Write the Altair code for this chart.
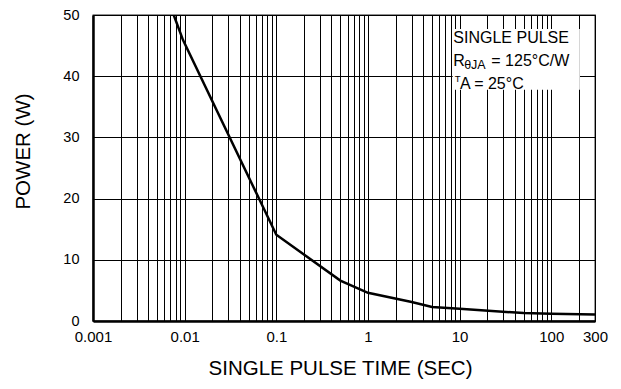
import altair as alt
import pandas as pd

# ---- data ----
time_s = [0.0076, 0.0096, 0.1, 0.5, 1, 3, 5, 10, 50, 100, 300]
power_w = [50, 45.9, 14.1, 6.6, 4.6, 3.1, 2.3, 2.0, 1.3, 1.2, 1.05]

tick_label_values = [0.001, 0.01, 0.1, 1, 10, 100, 300]
tick_labels = ["0.001", "0.01", "0.1", "1", "10", "100", "300"]
grid_values = [round(k * 10 ** n, 6) for n in range(-3, 2) for k in range(1, 10)] + [100, 200, 300]
y_values = [0, 10, 20, 30, 40, 50]

note_lines = ["SINGLE PULSE", "R", "θJA", "= 125°C/W", "T", "A = 25°C"]

FONT = "Liberation Sans"

df = pd.DataFrame({"time": time_s, "power": power_w})

label_expr = " : ".join(
    f"abs(datum.value - {v}) < 1e-9 ? '{t}'" for v, t in zip(tick_label_values, tick_labels)
) + " : ''"

x_enc = alt.X(
    "time:Q",
    scale=alt.Scale(type="log", domain=[0.001, 300], nice=False),
    axis=alt.Axis(
        values=grid_values,
        labelExpr=label_expr,
        grid=True, gridColor="black", gridWidth=1, gridOpacity=1,
        ticks=False, domainColor="black", domainWidth=2.5,
        labelFont=FONT, labelFontSize=15, labelColor="black",
        labelPadding=8, labelFlush=False, labelOverlap=False,
        title="SINGLE PULSE TIME (SEC)", titleFont=FONT, titleFontSize=20.5,
        titleFontWeight="normal", titleColor="black",
        titleX=247, titleY=53, titleAlign="center", titleBaseline="alphabetic",
    ),
)
y_enc = alt.Y(
    "power:Q",
    scale=alt.Scale(domain=[0, 50], nice=False),
    axis=alt.Axis(
        values=y_values,
        grid=True, gridColor="black", gridWidth=1, gridOpacity=1,
        ticks=False, domainColor="black", domainWidth=2.5,
        labelFont=FONT, labelFontSize=14.5, labelColor="black", labelPadding=14,
        title="POWER (W)", titleFont=FONT, titleFontSize=20.5,
        titleFontWeight="normal", titleColor="black",
        titleX=-70, titleY=136, titleAngle=270, titleAlign="center", titleBaseline="middle",
    ),
)

line = alt.Chart(df).mark_line(color="black", strokeWidth=2.5, clip=True).encode(x=x_enc, y=y_enc)

box_df = pd.DataFrame({"x": [8.4], "x2": [205], "y": [37.8], "y2": [47.7]})
box = alt.Chart(box_df).mark_rect(fill="white").encode(
    x="x:Q", x2="x2:Q", y="y:Q", y2="y2:Q"
)

def note(text, y, dx=0, dy=0, size=16):
    d = pd.DataFrame({"x": [8.54], "y": [y], "t": [text]})
    return alt.Chart(d).mark_text(
        align="left", baseline="alphabetic", font=FONT, fontSize=size,
        color="black", dx=dx, dy=dy,
    ).encode(x="x:Q", y="y:Q", text="t:N")

notes = [
    note(note_lines[0], 45.4),
    note(note_lines[1], 41.7),
    note(note_lines[2], 41.7, dx=10.8, dy=3, size=12.5),
    note(note_lines[3], 41.7, dx=38),
    note(note_lines[4], 39.1, dx=1.3, size=9.5),
    note(note_lines[5], 37.95, dx=6.6),
]

chart = alt.layer(line, box, *notes).properties(
    width=502, height=306,
    padding={"left": 85, "top": 7, "right": 18, "bottom": 60},
    autosize="none",
).configure_view(stroke="#222", strokeWidth=1.3)

chart.save("out.html", embed_options={"renderer": "svg", "actions": False})
